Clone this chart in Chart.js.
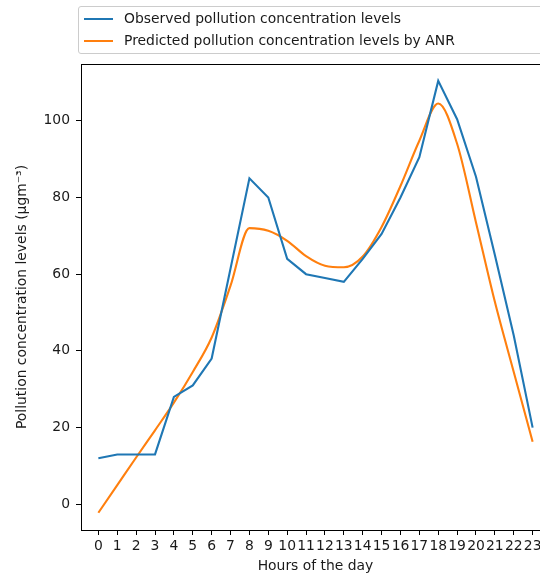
<!DOCTYPE html>
<html>
<head>
<meta charset="utf-8">
<script src="https://cdn.jsdelivr.net/npm/chart.js@4/dist/chart.umd.min.js"></script>
<style>
  html, body { margin: 0; padding: 0; background: #fff; overflow: hidden; }
  #wrap { position: relative; width: 556px; height: 577px; }
  #legend {
    position: absolute; left: 78px; top: 6px; width: 490px; height: 46px;
    border: 1px solid #cccccc; border-radius: 3px; background: rgba(255,255,255,0.8);
    font-family: "DejaVu Sans", sans-serif; font-size: 13.9px; color: #1a1a1a;
  }
  #legend .item { position: absolute; left: 0; height: 22px; width: 100%; }
  #legend .swatch { position: absolute; left: 5px; top: 10px; width: 29px; height: 2px; }
  #legend .label { position: absolute; left: 45px; top: 2px; white-space: nowrap; }
</style>
</head>
<body>
<div id="wrap">
  <canvas id="pollutionChart" width="556" height="577"></canvas>
  <div id="legend"></div>
</div>
<script>
const hours = [0, 1, 2, 3, 4, 5, 6, 7, 8, 9, 10, 11, 12, 13, 14, 15, 16, 17, 18, 19, 20, 21, 22, 23];
const observed = [12, 13, 13, 13, 28, 31, 38, 61.5, 85, 80, 64, 60, 59, 58, 64, 70.5, 80, 90.5, 110.4, 100.4, 85.4, 65, 44, 20];
// ANR predictions (orange line)
const predicted = [-2.2, 5, 12.2, 19.3, 26.5, 34.5, 43.5, 57, 72, 71.3, 68.7, 64.7, 62.2, 61.8, 64.6, 72.3, 83, 94.8, 104.5, 94, 73.5, 52.8, 34.5, 16.3];
const yTicks = [0, 20, 40, 60, 80, 100];

const seriesLabels = [
  "Observed pollution concentration levels",
  "Predicted pollution concentration levels by ANR",
];

const fontFamily = "'DejaVu Sans', sans-serif";
const textColor = "#1a1a1a";

// draws the top + right spines (matplotlib box)
const frame = {
  id: "frame",
  afterDatasetsDraw(chart) {
    const { ctx, chartArea } = chart;
    ctx.save();
    ctx.strokeStyle = "#000";
    ctx.lineWidth = 1;
    ctx.beginPath();
    ctx.moveTo(Math.round(chartArea.left) + 0.5, Math.round(chartArea.top) + 0.5);
    ctx.lineTo(Math.round(chartArea.right) + 0.5, Math.round(chartArea.top) + 0.5);
    ctx.lineTo(Math.round(chartArea.right) + 0.5, Math.round(chartArea.bottom) + 0.5);
    ctx.stroke();
    ctx.restore();
  },
};

const ctx = document.getElementById("pollutionChart").getContext("2d");

const chart = new Chart(ctx, {
  type: "line",
  data: {
    datasets: [
      {
        label: seriesLabels[0],
        data: hours.map((h, i) => ({ x: h, y: observed[i] })),
        borderColor: "#1f77b4",
        borderWidth: 2.1,
        tension: 0,
      },
      {
        label: seriesLabels[1],
        data: hours.map((h, i) => ({ x: h, y: predicted[i] })),
        borderColor: "#ff7f0e",
        borderWidth: 2.1,
        cubicInterpolationMode: "monotone",
      },
    ],
  },
  options: {
    responsive: false,
    animation: false,
    devicePixelRatio: 1,
    layout: { padding: { top: 64, right: 6, left: 0, bottom: 0 } },
    elements: { point: { radius: 0 } },
    plugins: { legend: { display: false }, tooltip: { enabled: false } },
    scales: {
      x: {
        type: "linear",
        min: -0.92,
        max: 23.92,
        afterBuildTicks: (axis) => {
          axis.ticks = hours.map((h) => ({ value: h }));
        },
        afterFit: (axis) => {
          axis.height = 47;
        },
        ticks: {
          autoSkip: false,
          maxRotation: 0,
          minRotation: 0,
          padding: 3,
          color: textColor,
          font: { family: fontFamily, size: 13.9 },
        },
        grid: { drawOnChartArea: false, tickLength: 5, color: "#000" },
        border: { color: "#000", width: 1 },
        title: {
          display: true,
          text: "Hours of the day",
          color: textColor,
          font: { family: fontFamily, size: 13.9 },
          padding: { top: 0, bottom: 2 },
        },
      },
      y: {
        min: -6.7,
        max: 114.8,
        afterBuildTicks: (axis) => {
          axis.ticks = yTicks.map((v) => ({ value: v }));
        },
        afterFit: (axis) => {
          axis.width = 81;
        },
        ticks: {
          padding: 6,
          color: textColor,
          font: { family: fontFamily, size: 13.9 },
        },
        grid: { drawOnChartArea: false, tickLength: 5, color: "#000" },
        border: { color: "#000", width: 1 },
        title: {
          display: true,
          text: "Pollution concentration levels (μgm⁻³)",
          color: textColor,
          font: { family: fontFamily, size: 13.9 },
          padding: { top: 14, bottom: 0 },
        },
      },
    },
  },
  plugins: [frame],
});

// legend built from the chart datasets
const legendEl = document.getElementById("legend");
chart.data.datasets.forEach((ds, i) => {
  const item = document.createElement("div");
  item.className = "item";
  item.style.top = 1 + i * 22.4 + "px";
  item.innerHTML =
    `<span class="swatch" style="background:${ds.borderColor}"></span>` +
    `<span class="label">${ds.label}</span>`;
  legendEl.appendChild(item);
});
</script>
</body>
</html>
